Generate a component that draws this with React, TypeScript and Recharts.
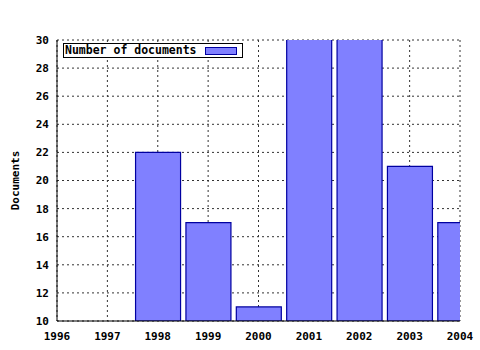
import { Bar, BarChart, CartesianGrid, XAxis, YAxis } from "recharts";

const years = [1998, 1999, 2000, 2001, 2002, 2003, 2004];
const documents = [22, 17, 11, 31, 31, 21, 17];
const yearTicks = [1996, 1997, 1998, 1999, 2000, 2001, 2002, 2003, 2004];
const docTicks = [10, 12, 14, 16, 18, 20, 22, 24, 26, 28, 30];

const data = years.map((year, i) => ({ year, documents: documents[i] }));

const FONT = "'DejaVu Sans Mono', monospace";
const tickStyle = { fill: "#000", fontSize: 11, fontFamily: FONT, fontWeight: 700 };

function LegendBox() {
  return (
    <div
      style={{
        position: "absolute",
        left: 63,
        top: 43,
        display: "flex",
        alignItems: "center",
        border: "1px solid #000",
        background: "#fff",
        padding: "0 5px 0 1px",
        height: 13,
        fontFamily: FONT,
        fontWeight: 700,
        fontSize: 11.5,
        color: "#000",
        lineHeight: "13px",
      }}
    >
      <span>Number of documents</span>
      <span
        style={{
          display: "inline-block",
          width: 30,
          height: 6,
          marginLeft: 8,
          background: "#8080ff",
          border: "1px solid #0000a0",
        }}
      />
    </div>
  );
}

function AxisTitle({ viewBox }: any) {
  const x = (viewBox?.x ?? 0) + 15;
  const y = (viewBox?.y ?? 0) + (viewBox?.height ?? 0) / 2;
  return (
    <text
      x={x}
      y={y}
      transform={`rotate(-90 ${x} ${y})`}
      textAnchor="middle"
      dominantBaseline="central"
      style={tickStyle}
    >
      Documents
    </text>
  );
}

export default function App() {
  return (
    <div style={{ position: "absolute", left: 0, top: 0, width: 480, height: 350, background: "#fff" }}>
      <BarChart
        width={480}
        height={350}
        data={data}
        margin={{ top: 40, right: 20, bottom: 0, left: 0 }}
      >
        <CartesianGrid stroke="#333" strokeDasharray="2 3" />
        <XAxis
          dataKey="year"
          type="number"
          domain={[1996, 2004]}
          ticks={yearTicks}
          allowDataOverflow
          height={29}
          tickLine={false}
          tickSize={0}
          tickMargin={11}
          axisLine={{ stroke: "#000", strokeWidth: 1 }}
          tick={tickStyle}
          interval={0}
        />
        <XAxis
          xAxisId="top"
          orientation="top"
          type="number"
          domain={[1996, 2004]}
          ticks={yearTicks}
          height={0}
          tick={false}
          tickLine={false}
          axisLine={{ stroke: "#000" }}
        />
        <YAxis
          domain={[10, 30]}
          ticks={docTicks}
          allowDataOverflow
          width={57}
          tickLine={false}
          tickSize={0}
          tickMargin={8}
          axisLine={{ stroke: "#000" }}
          tick={tickStyle}
          interval={0}
          label={<AxisTitle />}
        />
        <YAxis
          yAxisId="right"
          orientation="right"
          domain={[10, 30]}
          width={0}
          tick={false}
          tickLine={false}
          axisLine={{ stroke: "#000" }}
        />
        <Bar
          dataKey="documents"
          fill="#8080ff"
          stroke="#0000a0"
          strokeWidth={1.2}
          barSize={45}
          isAnimationActive={false}
        />
      </BarChart>
      <LegendBox />
    </div>
  );
}
